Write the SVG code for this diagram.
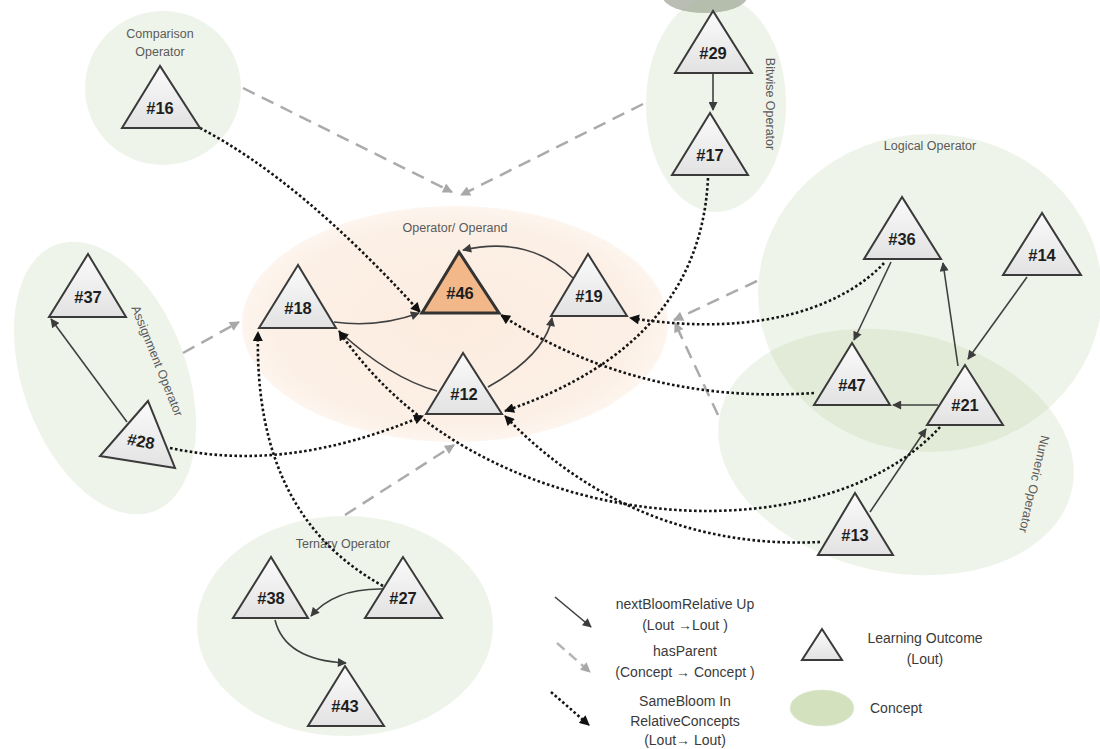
<svg xmlns="http://www.w3.org/2000/svg" width="1100" height="749" viewBox="0 0 1100 749">
<defs>
<linearGradient id="triG" x1="0" y1="0" x2="0" y2="1"><stop offset="0" stop-color="#fbfbfb"/><stop offset="1" stop-color="#e2e2e2"/></linearGradient>
<radialGradient id="peach" cx="0.5" cy="0.5" r="0.5"><stop offset="0" stop-color="#fcece0"/><stop offset="0.85" stop-color="#fcf0e6"/><stop offset="1" stop-color="#fdf5ee"/></radialGradient>
<marker id="aS" viewBox="0 0 10 10" refX="9" refY="5" markerWidth="10" markerHeight="9" markerUnits="userSpaceOnUse" orient="auto"><path d="M0,0 L10,5 L0,10 z" fill="#3c3c3c"/></marker>
<marker id="aD" viewBox="0 0 10 10" refX="9" refY="5" markerWidth="11" markerHeight="10" markerUnits="userSpaceOnUse" orient="auto"><path d="M0,0 L10,5 L0,10 z" fill="#111"/></marker>
<marker id="aG" viewBox="0 0 10 10" refX="9" refY="5" markerWidth="11" markerHeight="10" markerUnits="userSpaceOnUse" orient="auto"><path d="M0,0 L10,5 L0,10 z" fill="#a8a8a8"/></marker>
</defs>
<style>
.concept{fill:#a9c08a;fill-opacity:0.18}
.clabel{font-family:"Liberation Sans",Arial,sans-serif;font-size:12.5px;fill:#5a5a5a;text-anchor:middle}
.tri{fill:url(#triG);stroke:#3a3a3a;stroke-width:2;stroke-linejoin:miter}
.tlabel{font-family:"Liberation Sans",Arial,sans-serif;font-size:16.5px;font-weight:bold;fill:#1e1e1e;text-anchor:middle}
.solid{fill:none;stroke:#404040;stroke-width:1.6;marker-end:url(#aS)}
.dash{fill:none;stroke:#ababab;stroke-width:2.5;stroke-dasharray:13 8;marker-end:url(#aG)}
.dot{fill:none;stroke:#151515;stroke-width:2.6;stroke-dasharray:2.6 2.4;marker-end:url(#aD)}
.leg{font-family:"Liberation Sans",Arial,sans-serif;font-size:14px;fill:#3a3a3a;text-anchor:middle}
</style>
<rect width="1100" height="749" fill="#ffffff"/>
<g id="concepts">
<g id="c-grey"><ellipse cx="705" cy="-3" rx="42" ry="16" fill="#b9bdb4"/></g>
<g id="c-comparison"><ellipse class="concept" cx="163" cy="88" rx="78" ry="77"/><text class="clabel" x="160" y="38">Comparison</text><text class="clabel" x="160" y="56">Operator</text></g>
<g id="c-bitwise"><ellipse class="concept" cx="716" cy="104" rx="70" ry="108"/><text class="clabel" transform="translate(770,104) rotate(90)" x="0" y="4">Bitwise Operator</text></g>
<g id="c-logical"><ellipse class="concept" cx="930" cy="293" rx="172" ry="159"/><text class="clabel" x="930" y="150">Logical Operator</text></g>
<g id="c-numeric"><ellipse class="concept" cx="896" cy="452" rx="180" ry="120" transform="rotate(12 896 452)"/><text class="clabel" transform="translate(1034,484) rotate(103)" x="0" y="4">Numeric Operator</text></g>
<g id="c-assignment"><ellipse class="concept" cx="105" cy="378" rx="82" ry="142" transform="rotate(-20 105 378)"/><text class="clabel" transform="translate(157,361) rotate(68)" x="0" y="4">Assignment Operator</text></g>
<g id="c-ternary"><ellipse class="concept" cx="345" cy="626" rx="148" ry="110"/><text class="clabel" x="343" y="548">Ternary Operator</text></g>
<g id="c-operand"><ellipse cx="455" cy="324" rx="213" ry="118" fill="url(#peach)"/><text class="clabel" x="455" y="232">Operator/ Operand</text></g>
</g>
<g id="connectors">
<path class="dash" d="M243,88 L452,192"/>
<path class="dash" d="M643,104 L461,195"/>
<path class="dash" d="M183,353 L239,322"/>
<path class="dash" d="M345,515 L454,445"/>
<path class="dash" d="M757,281 L674,320"/>
<path class="dash" d="M718,415 L675,323"/>
<path class="solid" d="M713,74 L713,110"/>
<path class="solid" d="M334,322 Q378,328 419,313"/>
<path class="solid" d="M573,278 Q530,235 463,250"/>
<path class="solid" d="M437,391 Q390,378 340,332"/>
<path class="solid" d="M488,387 Q545,355 552,318"/>
<path class="solid" d="M891,262 L854,340"/>
<path class="solid" d="M958,366 L943,263"/>
<path class="solid" d="M1027,277 L968,359"/>
<path class="solid" d="M938,405 L893,405"/>
<path class="solid" d="M870,512 L926,429"/>
<path class="solid" d="M127,422 L51,319"/>
<path class="solid" d="M383,589 Q335,588 311,616"/>
<path class="solid" d="M275,620 Q285,660 346,663"/>
<path class="dot" d="M200,128 Q300,180 420,312"/>
<path class="dot" d="M708,178 C703,285 640,365 505,411"/>
<path class="dot" d="M884,263 C850,300 770,340 630,318"/>
<path class="dot" d="M814,393 Q640,405 501,315"/>
<path class="dot" d="M940,427 C820,560 480,540 339,331"/>
<path class="dot" d="M820,542 C700,548 590,505 505,416"/>
<path class="dot" d="M170,448 C250,465 330,455 423,416"/>
<path class="dot" d="M383,586 C300,540 255,460 258,332"/>
</g>
<g id="n16"><polygon class="tri" points="160,66 122,128 200,128"/><text class="tlabel" x="160" y="114">#16</text></g>
<g id="n29"><polygon class="tri" points="713,11 675,73 752,73"/><text class="tlabel" x="713" y="59">#29</text></g>
<g id="n17"><polygon class="tri" points="710,113 672,175 748,175"/><text class="tlabel" x="710" y="161">#17</text></g>
<g id="n36"><polygon class="tri" points="902,197 864,259 941,259"/><text class="tlabel" x="902" y="245">#36</text></g>
<g id="n14"><polygon class="tri" points="1042,213 1003,275 1081,275"/><text class="tlabel" x="1042" y="261">#14</text></g>
<g id="n47"><polygon class="tri" points="852,343 814,405 890,405"/><text class="tlabel" x="852" y="391">#47</text></g>
<g id="n21"><polygon class="tri" points="965,365 927,425 1003,425"/><text class="tlabel" x="965" y="411">#21</text></g>
<g id="n13"><polygon class="tri" points="855,493 818,555 893,555"/><text class="tlabel" x="855" y="541">#13</text></g>
<g id="n37"><polygon class="tri" points="88,254 49,317 126,317"/><text class="tlabel" x="88" y="303">#37</text></g>
<g id="n28"><polygon class="tri" points="148,401 100,456 175,468"/><text class="tlabel" transform="translate(140,447) rotate(10)" x="0" y="0">#28</text></g>
<g id="n18"><polygon class="tri" points="298,265 259,328 336,328"/><text class="tlabel" x="298" y="314">#18</text></g>
<g id="n46"><polygon points="459,252 422,313 499,313" fill="#f2b88a" stroke="#333" stroke-width="3"/><text class="tlabel" x="460" y="299">#46</text></g>
<g id="n19"><polygon class="tri" points="588,254 551,316 627,316"/><text class="tlabel" x="589" y="302">#19</text></g>
<g id="n12"><polygon class="tri" points="463,353 426,414 502,414"/><text class="tlabel" x="464" y="400">#12</text></g>
<g id="n38"><polygon class="tri" points="271,557 233,618 308,618"/><text class="tlabel" x="271" y="604">#38</text></g>
<g id="n27"><polygon class="tri" points="403,557 365,618 442,618"/><text class="tlabel" x="403" y="604">#27</text></g>
<g id="n43"><polygon class="tri" points="345,666 308,726 384,726"/><text class="tlabel" x="345" y="712">#43</text></g>
<g id="legend">
<path class="solid" d="M555,597 L591,627"/>
<text class="leg" x="685" y="609">nextBloomRelative Up</text>
<text class="leg" x="685" y="630">(Lout →Lout )</text>
<path fill="none" stroke="#b5b5b5" stroke-width="2.5" stroke-dasharray="10 6" marker-end="url(#aG)" d="M557,643 L590,672"/>
<text class="leg" x="685" y="656">hasParent</text>
<text class="leg" x="685" y="677">(Concept → Concept )</text>
<path class="dot" d="M551,692 L589,725"/>
<text class="leg" x="685" y="706">SameBloom In</text>
<text class="leg" x="685" y="726">RelativeConcepts</text>
<text class="leg" x="685" y="745">(Lout→ Lout)</text>
<polygon class="tri" points="822,629 802,660 842,660"/>
<text class="leg" x="925" y="643">Learning Outcome</text>
<text class="leg" x="925" y="664">(Lout)</text>
<ellipse cx="822" cy="708" rx="32" ry="18" fill="#d3e1bf" stroke="#e3ecd6" stroke-dasharray="2 2"/>
<text class="leg" x="870" y="713" style="text-anchor:start">Concept</text>
</g>
</svg>
